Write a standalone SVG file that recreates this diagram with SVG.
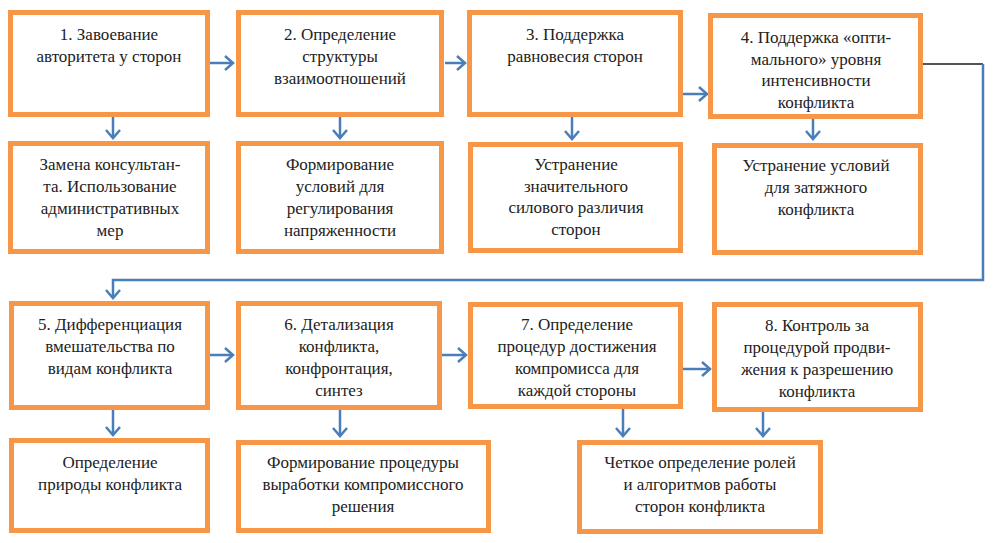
<svg xmlns="http://www.w3.org/2000/svg" width="1002" height="543" viewBox="0 0 1002 543">
<style>
.box{fill:#ffffff;stroke:#f79646;stroke-width:5}
.t{font-family:'Liberation Serif','DejaVu Serif',serif;font-size:17px;fill:#222222;text-anchor:middle}
.c{fill:none;stroke:#4a7ebb;stroke-width:2.5}
.g{fill:none;stroke:#555555;stroke-width:1.8}
</style>
<defs>
<marker id="ah" markerUnits="userSpaceOnUse" markerWidth="20" markerHeight="20" viewBox="-10 -10 20 20" refX="0" refY="0" orient="auto">
<path d="M-8,-7 L0,0 L-8,7" fill="none" stroke="#4a7ebb" stroke-width="2.5"/>
</marker>
</defs>
<rect width="1002" height="543" fill="#ffffff"/>
<g id="connectors">
<path class="c" d="M209,63 H233" marker-end="url(#ah)"/>
<path class="c" d="M445,63 H465" marker-end="url(#ah)"/>
<path class="c" d="M683,94 H707" marker-end="url(#ah)"/>
<path class="c" d="M113,117 V138" marker-end="url(#ah)"/>
<path class="c" d="M340,117 V138" marker-end="url(#ah)"/>
<path class="c" d="M572,117 V139" marker-end="url(#ah)"/>
<path class="c" d="M813,112 V139" marker-end="url(#ah)"/>
<path class="g" d="M923,64 H983"/>
<path class="c" d="M983,64 V280 H113 V298" marker-end="url(#ah)"/>
<path class="c" d="M210,355 H233" marker-end="url(#ah)"/>
<path class="c" d="M442,355 H466" marker-end="url(#ah)"/>
<path class="c" d="M683,369 H710" marker-end="url(#ah)"/>
<path class="c" d="M113,410 V435" marker-end="url(#ah)"/>
<path class="c" d="M340,410 V436" marker-end="url(#ah)"/>
<path class="c" d="M623,409 V436" marker-end="url(#ah)"/>
<path class="c" d="M763,412 V436" marker-end="url(#ah)"/>
</g>
<g id="n1"><rect class="box" x="10.5" y="12.5" width="197" height="102"/>
<text class="t" x="109" y="40">1. Завоевание</text><text class="t" x="109" y="62">авторитета у сторон</text></g>
<g id="n2"><rect class="box" x="238.5" y="12.5" width="203" height="102"/>
<text class="t" x="340" y="40">2. Определение</text><text class="t" x="340" y="62">структуры</text><text class="t" x="340" y="84">взаимоотношений</text></g>
<g id="n3"><rect class="box" x="469.5" y="12.5" width="211" height="102"/>
<text class="t" x="575" y="40">3. Поддержка</text><text class="t" x="575" y="62">равновесия сторон</text></g>
<g id="n4"><rect class="box" x="710.5" y="15.5" width="210" height="101"/>
<text class="t" x="816" y="43">4. Поддержка «опти-</text><text class="t" x="816" y="65">мального» уровня</text><text class="t" x="816" y="86">интенсивности</text><text class="t" x="816" y="108">конфликта</text></g>
<g id="n1b"><rect class="box" x="10.5" y="143.5" width="197" height="108"/>
<text class="t" x="110" y="170">Замена консультан-</text><text class="t" x="110" y="192">та. Использование</text><text class="t" x="110" y="214">административных</text><text class="t" x="110" y="236">мер</text></g>
<g id="n2b"><rect class="box" x="238.5" y="143.5" width="203" height="108"/>
<text class="t" x="340" y="170">Формирование</text><text class="t" x="340" y="192">условий для</text><text class="t" x="340" y="214">регулирования</text><text class="t" x="340" y="236">напряженности</text></g>
<g id="n3b"><rect class="box" x="470.5" y="144.5" width="210" height="106"/>
<text class="t" x="576" y="170">Устранение</text><text class="t" x="576" y="192">значительного</text><text class="t" x="576" y="213">силового различия</text><text class="t" x="576" y="235">сторон</text></g>
<g id="n4b"><rect class="box" x="714.5" y="145.5" width="206" height="107"/>
<text class="t" x="816" y="171">Устранение условий</text><text class="t" x="816" y="193">для затяжного</text><text class="t" x="816" y="215">конфликта</text></g>
<g id="n5"><rect class="box" x="11.5" y="303.5" width="196" height="104"/>
<text class="t" x="110" y="330">5. Дифференциация</text><text class="t" x="110" y="352">вмешательства по</text><text class="t" x="110" y="374">видам конфликта</text></g>
<g id="n6"><rect class="box" x="238.5" y="303.5" width="201" height="104"/>
<text class="t" x="339" y="330">6. Детализация</text><text class="t" x="339" y="352">конфликта,</text><text class="t" x="339" y="374">конфронтация,</text><text class="t" x="339" y="396">синтез</text></g>
<g id="n7"><rect class="box" x="470.5" y="304.5" width="210" height="102"/>
<text class="t" x="577" y="330">7. Определение</text><text class="t" x="577" y="352">процедур достижения</text><text class="t" x="577" y="374">компромисса для</text><text class="t" x="577" y="396">каждой стороны</text></g>
<g id="n8"><rect class="box" x="714.5" y="304.5" width="206" height="105"/>
<text class="t" x="817" y="331">8. Контроль за</text><text class="t" x="817" y="353">процедурой продви-</text><text class="t" x="817" y="375">жения к разрешению</text><text class="t" x="817" y="397">конфликта</text></g>
<g id="n5b"><rect class="box" x="11.5" y="440.5" width="196" height="90"/>
<text class="t" x="110" y="468">Определение</text><text class="t" x="110" y="490">природы конфликта</text></g>
<g id="n6b"><rect class="box" x="238.5" y="442.5" width="250" height="88"/>
<text class="t" x="363" y="468">Формирование процедуры</text><text class="t" x="363" y="490">выработки компромиссного</text><text class="t" x="363" y="512">решения</text></g>
<g id="n78b"><rect class="box" x="579.5" y="442.5" width="241" height="89"/>
<text class="t" x="700" y="468">Четкое определение ролей</text><text class="t" x="700" y="490">и алгоритмов работы</text><text class="t" x="700" y="512">сторон конфликта</text></g>
</svg>
